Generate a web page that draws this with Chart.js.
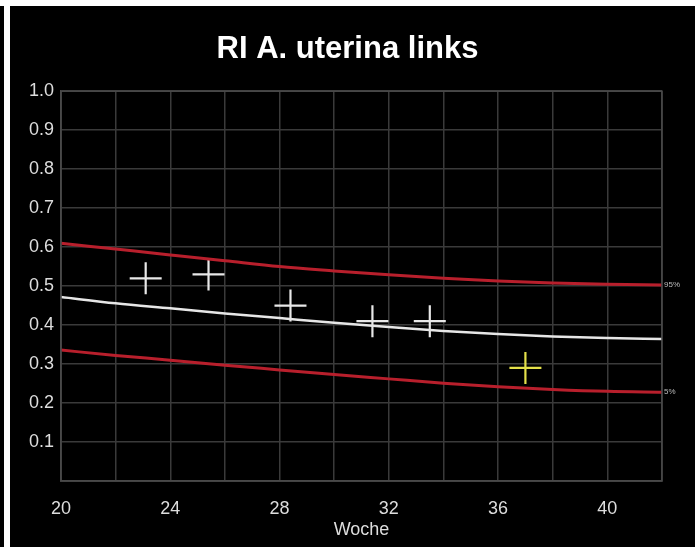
<!DOCTYPE html>
<html>
<head>
<meta charset="utf-8">
<script src="https://cdn.jsdelivr.net/npm/chart.js@4"></script>
<style>
  html, body { margin: 0; padding: 0; background: #000; }
  body { width: 695px; height: 547px; position: relative; overflow: hidden; }
  #topStrip { position: absolute; left: 0; top: 0; width: 695px; height: 6px; background: #fff; }
  #leftStrip { position: absolute; left: 4px; top: 0; width: 6px; height: 547px; background: #fff; }
  #wrap { position: absolute; left: 0; top: 0; width: 695px; height: 547px; }
</style>
</head>
<body>
<div id="topStrip"></div>
<div id="leftStrip"></div>
<div id="wrap"><canvas id="riChart"></canvas></div>
<script>
// Reference curves (week -> RI)
const weeks = [20, 22, 24, 26, 28, 30, 32, 34, 36, 38, 40, 42];
const p95 = [0.610, 0.595, 0.580, 0.565, 0.550, 0.539, 0.529, 0.520, 0.513, 0.508, 0.505, 0.503];
const p50 = [0.472, 0.456, 0.443, 0.430, 0.418, 0.406, 0.395, 0.385, 0.377, 0.371, 0.367, 0.364];
const p5 = [0.336, 0.322, 0.310, 0.297, 0.285, 0.273, 0.262, 0.251, 0.242, 0.235, 0.230, 0.228];

// Measurements
const measWeeks = [23.1, 25.4, 28.4, 31.4, 33.5];
const measRI = [0.52, 0.53, 0.45, 0.41, 0.41];
const currentWeek = [37.0];
const currentRI = [0.29];

const xTickLabels = [20, 24, 28, 32, 36, 40];
const yTickLabels = ['0.1', '0.2', '0.3', '0.4', '0.5', '0.6', '0.7', '0.8', '0.9', '1.0'];

const toPoints = (xs, ys) => xs.map((x, i) => ({ x: x, y: ys[i] }));

const FONT = 'Liberation Sans, Arial, sans-serif';

// Small percentile labels at the right end of the curves
const endLabels = {
    id: 'endLabels',
    afterDatasetsDraw(chart) {
        const ctx = chart.ctx;
        chart.data.datasets.forEach((ds, i) => {
            if (!ds.endLabel) return;
            const meta = chart.getDatasetMeta(i);
            const pt = meta.data[meta.data.length - 1];
            ctx.save();
            ctx.font = '8px ' + FONT;
            ctx.fillStyle = '#bbbbbb';
            ctx.textBaseline = 'middle';
            ctx.textAlign = 'left';
            ctx.fillText(ds.endLabel, pt.x + 2, pt.y);
            ctx.restore();
        });
    }
};

const ctx = document.getElementById('riChart').getContext('2d');
const riChart = new Chart(ctx, {
    type: 'line',
    data: {
        datasets: [
            {
                label: '95%',
                endLabel: '95%',
                data: toPoints(weeks, p95),
                borderColor: '#b81f2c',
                borderWidth: 3,
                pointRadius: 0,
                cubicInterpolationMode: 'monotone'
            },
            {
                label: '50%',
                data: toPoints(weeks, p50),
                borderColor: '#e6e6e6',
                borderWidth: 2.5,
                pointRadius: 0,
                cubicInterpolationMode: 'monotone'
            },
            {
                label: '5%',
                endLabel: '5%',
                data: toPoints(weeks, p5),
                borderColor: '#b81f2c',
                borderWidth: 3,
                pointRadius: 0,
                cubicInterpolationMode: 'monotone'
            },
            {
                label: 'Messung',
                data: toPoints(measWeeks, measRI),
                showLine: false,
                pointStyle: 'cross',
                pointRadius: 16,
                pointHoverRadius: 16,
                pointBorderWidth: 2.2,
                pointBorderColor: '#e8e8e8',
                borderColor: '#e8e8e8'
            },
            {
                label: 'Aktuell',
                data: toPoints(currentWeek, currentRI),
                showLine: false,
                pointStyle: 'cross',
                pointRadius: 16,
                pointHoverRadius: 16,
                pointBorderWidth: 2.2,
                pointBorderColor: '#e4e04a',
                borderColor: '#e4e04a'
            }
        ]
    },
    options: {
        responsive: true,
        maintainAspectRatio: false,
        animation: false,
        layout: {
            padding: { left: 0, right: 0, top: 0, bottom: 4 }
        },
        plugins: {
            legend: { display: false },
            tooltip: { enabled: false },
            title: {
                display: true,
                text: 'RI A. uterina links',
                color: '#ffffff',
                font: { family: FONT, size: 31, weight: 'bold' },
                padding: { top: 31, bottom: 23 }
            }
        },
        scales: {
            x: {
                type: 'linear',
                min: 20,
                max: 42,
                border: { display: true, color: '#4a4a4a', width: 1.5 },
                grid: { color: '#3a3a3a', lineWidth: 1.5, drawTicks: false },
                ticks: {
                    stepSize: 2,
                    color: '#dddddd',
                    padding: 17,
                    maxRotation: 0,
                    font: { family: FONT, size: 18 },
                    callback: (v) => xTickLabels.includes(v) ? String(v) : ''
                },
                title: {
                    display: true,
                    text: 'Woche',
                    color: '#dddddd',
                    font: { family: FONT, size: 18 },
                    padding: { top: 0, bottom: 2 }
                },
                afterFit: (scale) => { scale.height = 62; }
            },
            y: {
                min: 0,
                max: 1,
                border: { display: true, color: '#4a4a4a', width: 1.5 },
                grid: { color: '#3a3a3a', lineWidth: 1.5, drawTicks: false },
                ticks: {
                    stepSize: 0.1,
                    color: '#dddddd',
                    padding: 7,
                    font: { family: FONT, size: 18 },
                    callback: (v) => {
                        const s = v.toFixed(1);
                        return yTickLabels.includes(s) ? s : '';
                    }
                },
                afterFit: (scale) => { scale.width = 61; }
            },
            // empty right margin holding the percentile labels
            yRight: {
                position: 'right',
                display: true,
                min: 0,
                max: 1,
                grid: { display: false },
                border: { display: false },
                ticks: { display: false },
                afterFit: (scale) => { scale.width = 33; }
            }
        }
    },
    plugins: [endLabels, {
        id: 'frame',
        afterDraw(chart) {
            const a = chart.chartArea;
            const c = chart.ctx;
            c.save();
            c.strokeStyle = '#4a4a4a';
            c.lineWidth = 1.5;
            c.strokeRect(a.left, a.top, a.right - a.left, a.bottom - a.top);
            c.restore();
        }
    }]
});
</script>
</body>
</html>
